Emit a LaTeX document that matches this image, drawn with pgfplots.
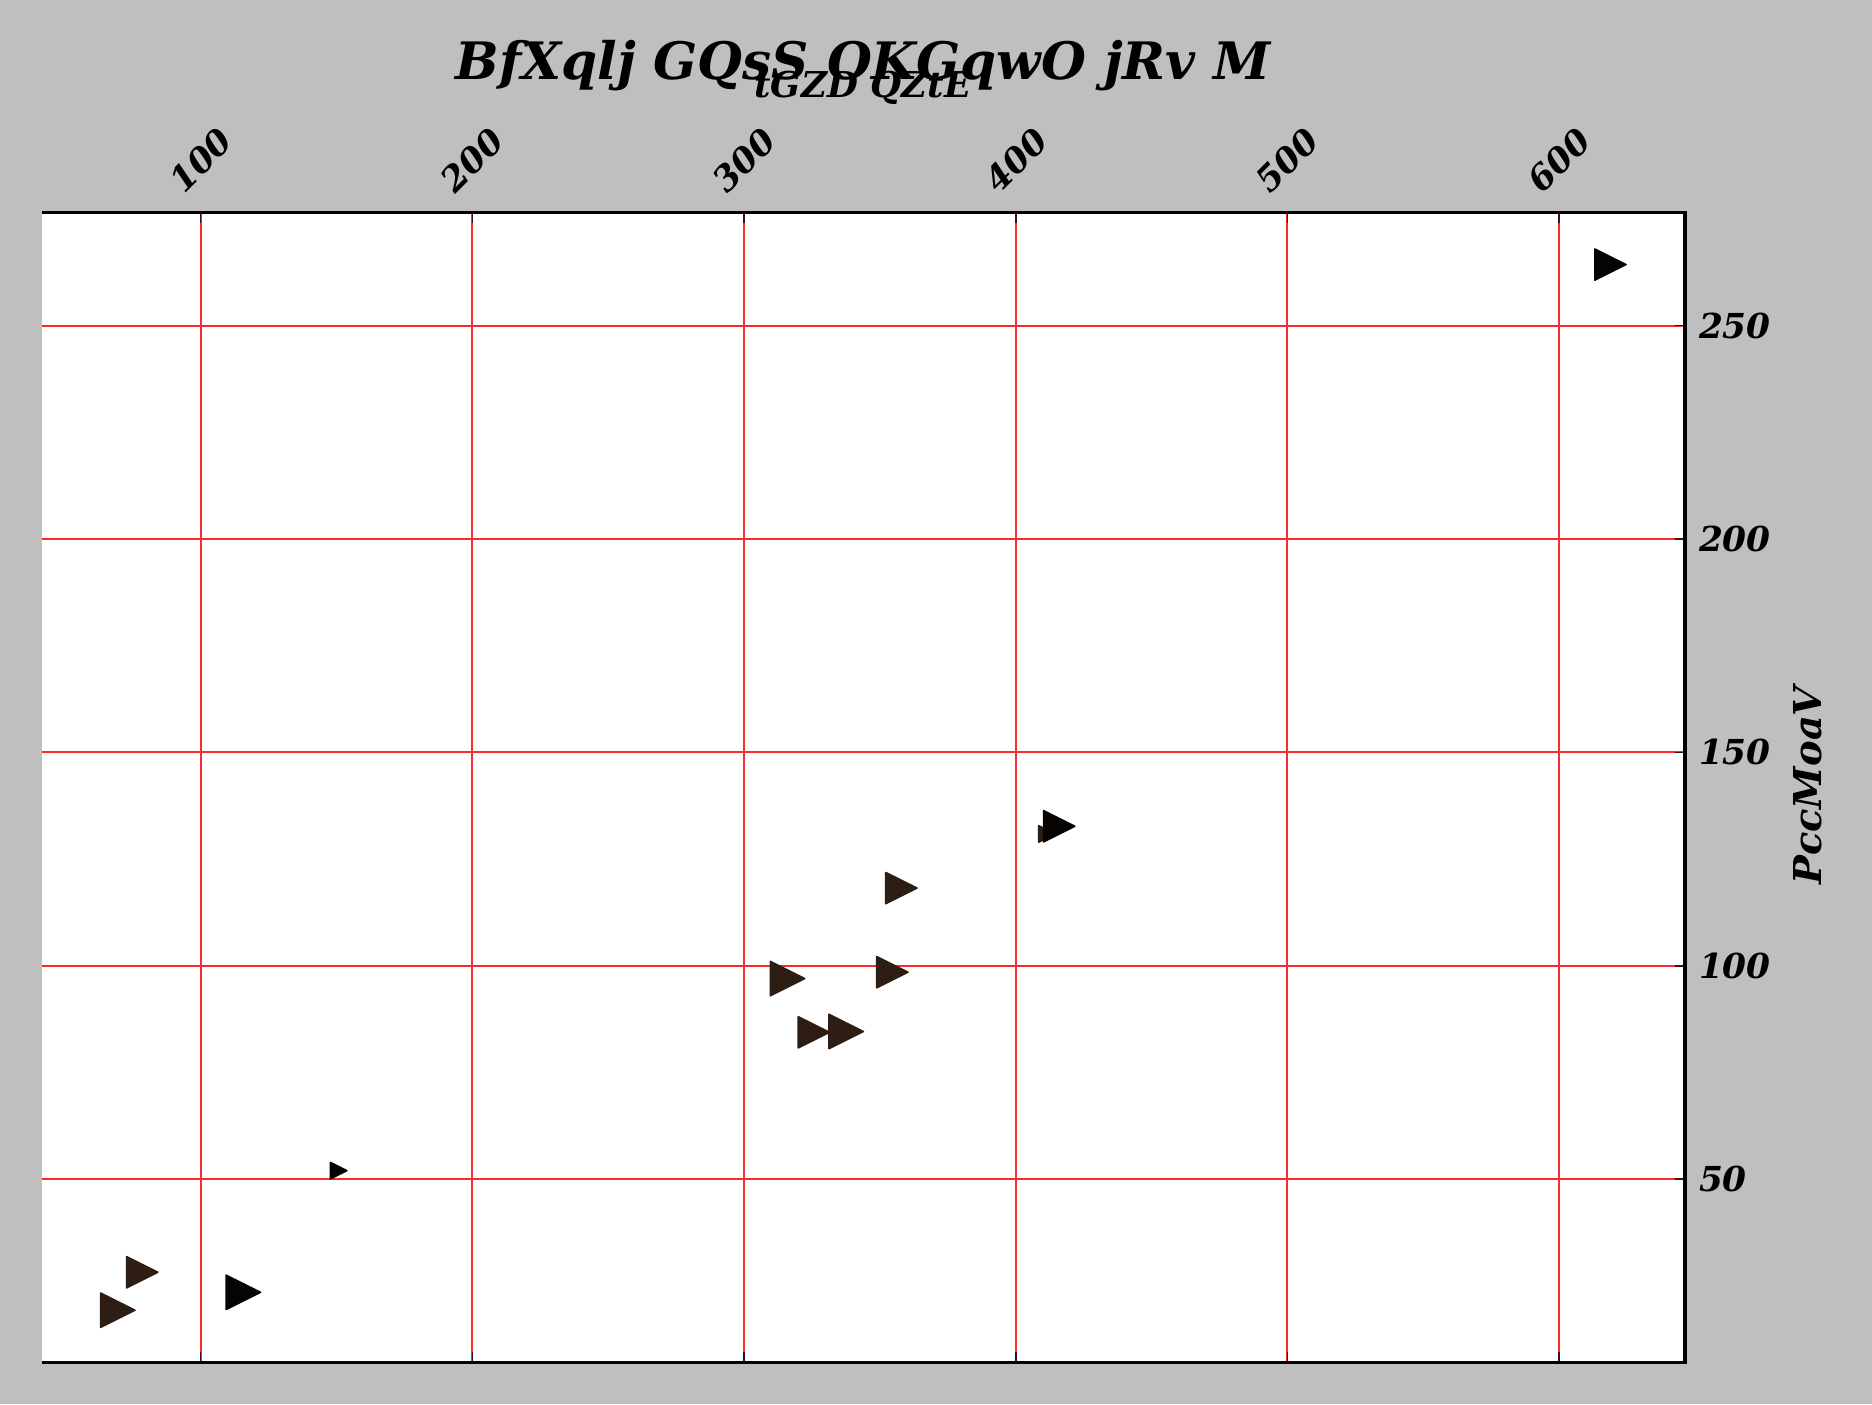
\documentclass[border=0pt]{standalone}
\usepackage{fontspec}
\usepackage{pgfplots}
\pgfplotsset{compat=1.18}
\newfontfamily\serifwide{DejaVu Serif}
\newfontfamily\serifcond{DejaVu Serif Condensed}
\definecolor{bggray}{RGB}{191,191,191}
\definecolor{mbrown}{RGB}{46,29,19}
\definecolor{mblack}{RGB}{5,4,3}
\definecolor{gridred}{RGB}{255,40,40}
\definecolor{tickdark}{RGB}{60,15,15}
\pgfdeclareplotmark{rtri}{%
  \pgfpathmoveto{\pgfqpoint{\pgfplotmarksize}{0pt}}%
  \pgfpathlineto{\pgfqpoint{-\pgfplotmarksize}{\pgfplotmarksize}}%
  \pgfpathlineto{\pgfqpoint{-\pgfplotmarksize}{-\pgfplotmarksize}}%
  \pgfpathclose
  \pgfusepathqfillstroke}
\begin{document}
\begin{tikzpicture}
\path[use as bounding box, fill=bggray] (-10.425pt,-10.325pt) rectangle (457.575pt,340.675pt);
\begin{axis}[
  at={(0pt,0pt)}, anchor=south west,
  scale only axis, width=410.8pt, height=287.55pt,
  xmin=41.5, xmax=646.3, ymin=7.0, ymax=276.5,
  axis background/.style={fill=white},
  axis line style={draw=none},
  clip=false,
  xtick={100,200,300,400,500,600},
  ytick={50,100,150,200,250},
  xticklabel pos=top, yticklabel pos=right,
  xtick pos=both, ytick pos=right,
  tick align=inside,
  major tick length=2.6pt,
  tick style={tickdark, line width=0.4pt},
  grid=major,
  major grid style={gridred, line width=0.48pt},
  /pgf/number format/assume math mode=true,
  ticklabel style={font=\serifwide\bfseries\itshape\fontsize{8.6}{10}\selectfont},
  xticklabel style={yshift=13.1pt, rotate=45, anchor=center},
  scaled ticks=false,
]
\addplot[only marks, mark=rtri, mark size=2.05pt, mbrown, mark options={line width=0.4pt, line join=round, fill=mbrown}]
  coordinates {(411.5,130.9)};
\addplot[only marks, mark=rtri, mark size=3.9pt, mbrown, mark options={line width=0.4pt, line join=round, fill=mbrown}]
  coordinates {(357.9,118.2) (354.6,98.5) (325.7,84.4) (78.5,28.2)};
\addplot[only marks, mark=rtri, mark size=4.3pt, mbrown, mark options={line width=0.4pt, line join=round, fill=mbrown}]
  coordinates {(316.0,97.0) (337.6,84.6) (69.5,19.3)};
\addplot[only marks, mark=rtri, mark size=4.3pt, mblack, mark options={line width=0.4pt, line join=round, fill=mblack}]
  coordinates {(115.7,23.5)};
\addplot[only marks, mark=rtri, mark size=3.9pt, mblack, mark options={line width=0.4pt, line join=round, fill=mblack}]
  coordinates {(618.9,264.3) (416.0,132.7)};
\addplot[only marks, mark=rtri, mark size=2.05pt, mblack, mark options={line width=0.4pt, line join=round, fill=mblack}]
  coordinates {(150.8,52.0)};
\draw[black, line width=0.85pt] (rel axis cs:0,1) -- (rel axis cs:1,1) -- (rel axis cs:1,0) -- (rel axis cs:0,0);
\node[anchor=base, inner sep=0pt, font=\serifwide\bfseries\itshape\fontsize{12.9}{15}\selectfont] at (rel axis cs:0.5,1.1158) {BfXqlj GQsS OKGqwO jRv M};
\node[anchor=base, inner sep=0pt, font=\serifwide\bfseries\itshape\fontsize{8.9}{11}\selectfont] at (rel axis cs:0.4997,1.1002) {tGZD QZtE};
\node[anchor=base, rotate=90, inner sep=0pt, font=\serifwide\bfseries\itshape\fontsize{9.6}{11}\selectfont] at (rel axis cs:1.0834,0.5018) {PccMoaV};
\end{axis}
\end{tikzpicture}
\end{document}
